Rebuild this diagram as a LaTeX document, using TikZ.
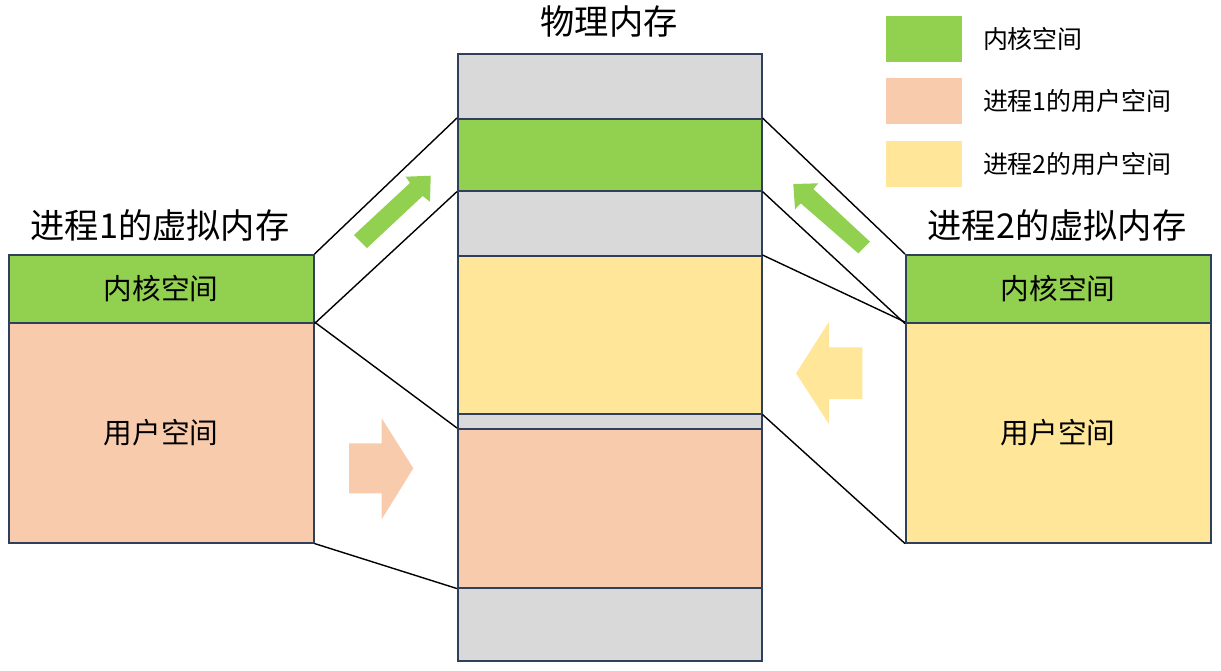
\documentclass[tikz,border=0pt]{standalone}
\usepackage{fontspec}
\setmainfont{Noto Sans CJK SC}
\usepackage{tikz}
\usetikzlibrary{positioning}

\definecolor{kern}{HTML}{92D050}
\definecolor{userA}{HTML}{F8CBAD}
\definecolor{userB}{HTML}{FFE699}
\definecolor{free}{HTML}{D9D9D9}
\definecolor{edge}{HTML}{2F3F5C}

\begin{document}
\begin{tikzpicture}[x=0.02cm, y=-0.02cm,
    blk/.style={draw=edge, line width=0.9pt, inner sep=0pt, anchor=north west, font=\fontsize{16.3}{19}\selectfont},
    key/.style={inner sep=0pt, anchor=north west, minimum width=1.52cm, minimum height=0.92cm},
    keytxt/.style={right=0.4cm of #1, inner sep=0pt, font=\fontsize{14.2}{17}\selectfont},
    ttl/.style={inner sep=0pt, font=\fontsize{19.5}{23}\selectfont},
    lnk/.style={line width=0.8pt}]
            \useasboundingbox (0,0) rectangle (1221,670);
            % Titulos
            \node[ttl] (tmem) at (609,22) {物理内存};
            \node[ttl] (tp1) at (160,225) {进程1的虚拟内存};
            \node[ttl] (tp2) at (1057,225) {进程2的虚拟内存};

            % Proceso 1
            \node[blk, fill=kern, minimum width=6.1cm, minimum height=1.36cm] (k1) at (8,254) {内核空间};
            \node[blk, fill=userA, minimum width=6.1cm, minimum height=4.4cm] (u1) at (8,322) {用户空间};

            % Memoria fisica
            \node[blk, fill=free, minimum width=6.08cm, minimum height=1.3cm] (m1) at (457,53) {};
            \node[blk, fill=kern, minimum width=6.08cm, minimum height=1.44cm] (mk) at (457,118) {};
            \node[blk, fill=free, minimum width=6.08cm, minimum height=1.3cm] (m2) at (457,190) {};
            \node[blk, fill=userB, minimum width=6.08cm, minimum height=3.16cm] (mb) at (457,255) {};
            \node[blk, fill=free, minimum width=6.08cm, minimum height=0.3cm] (m3) at (457,413) {};
            \node[blk, fill=userA, minimum width=6.08cm, minimum height=3.18cm] (ma) at (457,428) {};
            \node[blk, fill=free, minimum width=6.08cm, minimum height=1.46cm] (m4) at (457,587) {};

            % Proceso 2
            \node[blk, fill=kern, minimum width=6.1cm, minimum height=1.36cm] (k2) at (905,254) {内核空间};
            \node[blk, fill=userB, minimum width=6.1cm, minimum height=4.4cm] (u2) at (905,322) {用户空间};

            % Leyenda
            \node[key, fill=kern] (lk) at (886,16) {};
            \node[key, fill=userA] (la) at (886,78) {};
            \node[key, fill=userB] (lb) at (886,141) {};
            \node[keytxt=lk] (tk) {内核空间};
            \node[keytxt=la] (ta) {进程1的用户空间};
            \node[keytxt=lb] (tb) {进程2的用户空间};

            % Lineas
            \draw[lnk] (k1.north east) -- (mk.north west);
            \draw[lnk] (k1.south east) -- (mk.south west);
            \draw[lnk] (u1.north east) -- (ma.north west);
            \draw[lnk] (u1.south east) -- (ma.south west);
            \draw[lnk] (mk.north east) -- (k2.north west);
            \draw[lnk] (mk.south east) -- (k2.south west);
            \draw[lnk] (mb.north east) -- (u2.north west);
            \draw[lnk] (mb.south east) -- (u2.south west);

            % Flechas
            \fill[kern] (354,235) -- (410,183) -- (405.7,176.7) -- (430.7,175.7) -- (430,201.7) -- (422.7,196) -- (367,248) -- cycle;
            \fill[kern] (870,241.7) -- (813.3,189) -- (818.3,183.3) -- (793.3,184) -- (795,209.3) -- (800.7,203.3) -- (858.3,253.3) -- cycle;
            \fill[userA] (349,443.3) -- (381.7,443.3) -- (381.7,418.3) -- (413.3,468.3) -- (381.7,519.3) -- (381.7,493.3) -- (349,493.3) -- cycle;
            \fill[userB] (862.3,347.3) -- (829,347.3) -- (829,321.7) -- (796,373.3) -- (829,424) -- (829,399) -- (862.3,399) -- cycle;
          \end{tikzpicture}
\end{document}
